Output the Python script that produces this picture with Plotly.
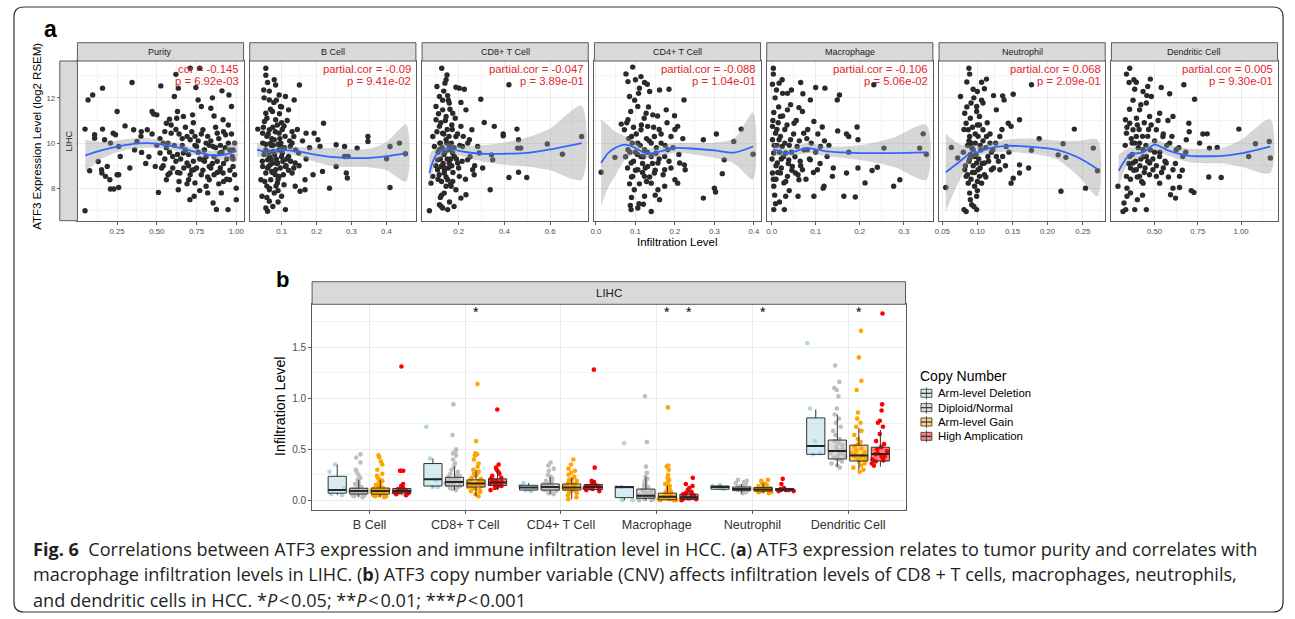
import plotly.graph_objects as go

W, H = 1295, 619
FONT = "Liberation Sans, Arial, Helvetica, sans-serif"
CAP_FONT = "Open Sans, Lato, Liberation Sans, sans-serif"

# ---------------- Panel a : data ----------------
panel_names = ["Purity", "B Cell", "CD8+ T Cell", "CD4+ T Cell", "Macrophage", "Neutrophil", "Dendritic Cell"]
cor_text = ["cor = -0.145", "partial.cor = -0.09", "partial.cor = -0.047", "partial.cor = -0.088",
            "partial.cor = -0.106", "partial.cor = 0.068", "partial.cor = 0.005"]
p_text = ["p = 6.92e-03", "p = 9.41e-02", "p = 3.89e-01", "p = 1.04e-01",
          "p = 5.06e-02", "p = 2.09e-01", "p = 9.30e-01"]

x_ticks = [[0.25, 0.5, 0.75, 1.0], [0.1, 0.2, 0.3, 0.4], [0.2, 0.4, 0.6], [0.0, 0.1, 0.2, 0.3, 0.4],
           [0.0, 0.1, 0.2, 0.3], [0.05, 0.10, 0.15, 0.20, 0.25], [0.5, 0.75, 1.0]]
x_tick_text = [["0.25", "0.50", "0.75", "1.00"], ["0.1", "0.2", "0.3", "0.4"], ["0.2", "0.4", "0.6"],
               ["0.0", "0.1", "0.2", "0.3", "0.4"], ["0.0", "0.1", "0.2", "0.3"],
               ["0.05", "0.10", "0.15", "0.20", "0.25"], ["0.50", "0.75", "1.00"]]
x_minor = [[0.125, 0.375, 0.625, 0.875], [0.05, 0.15, 0.25, 0.35, 0.45], [0.1, 0.3, 0.5, 0.7],
           [0.05, 0.15, 0.25, 0.35], [0.05, 0.15, 0.25, 0.35], [0.075, 0.125, 0.175, 0.225, 0.275],
           [0.375, 0.625, 0.875, 1.125]]
x_ranges = [[0.0, 1.046], [0.009, 0.484], [0.04, 0.767], [-0.004, 0.417], [-0.011, 0.366],
            [0.0455, 0.282], [0.25, 1.211]]
y_ticks = [8, 10, 12]
y_tick_text = ["8", "10", "12"]
y_minor = [7, 9, 11, 13]
y_range = [6.57, 13.63]

purity_pts = [(0.048,7.01),(0.048,10.62),(0.067,11.91),(0.096,12.13),(0.077,8.78),(0.108,10.37),(0.108,10.22),
    (0.158,12.43),(0.158,10.62),(0.171,10.15),(0.131,9.19),(0.152,8.82),(0.154,8.68),(0.188,8.97),(0.177,8.53),
    (0.204,8.38),(0.208,7.97),(0.229,7.97),(0.26,8.04),(0.25,8.6),(0.26,8.6),(0.225,10.44),(0.24,10.37),
    (0.208,10.0),(0.25,11.4),(0.27,9.41),(0.26,9.85),(0.30,10.76),(0.344,12.68),(0.354,10.59),(0.375,10.07),
    (0.404,9.59),(0.402,10.51),(0.44,10.59),(0.47,11.4),(0.48,11.29),(0.50,11.25),(0.525,12.53),(0.51,7.82),
    (0.49,8.97),(0.52,9.56),(0.54,10.0),(0.55,10.51),(0.56,10.88),(0.58,11.06),(0.59,10.44),(0.60,9.41),
    (0.61,12.06),(0.62,13.04),(0.635,12.43),(0.625,11.1),(0.635,7.94),(0.645,8.68),(0.667,11.18),(0.69,9.12),
    (0.70,8.38),(0.71,13.31),(0.725,11.25),(0.733,8.82),(0.735,7.65),(0.746,12.46),(0.76,11.91),(0.77,13.31),
    (0.78,11.62),(0.79,10.59),(0.798,9.7),(0.81,10.0),(0.81,8.09),(0.82,7.8),(0.83,8.97),(0.84,11.54),
    (0.85,12.0),(0.854,7.35),(0.875,7.07),(0.88,10.44),(0.896,8.75),(0.906,7.8),(0.91,12.31),(0.917,11.03),
    (0.933,10.37),(0.948,7.06),(0.954,12.13),(0.97,11.62),(0.975,9.41),(1.0,8.01),(0.99,10.0),(0.98,8.97),
    (0.71,10.15),(0.75,9.85),(0.854,9.85),(0.896,9.56),(0.667,9.56),(0.79,9.26),(0.917,8.68),(0.83,8.38),
    (0.74,8.24),(0.583,8.68),(0.56,8.38),(0.958,8.38),(0.708,7.5),(1.0,7.5),
    (0.62,9.2),(0.66,9.9),(0.70,9.0),(0.72,8.8),(0.76,9.6),(0.78,8.6),(0.80,9.2),(0.82,10.3),(0.84,8.9),
    (0.86,9.4),(0.88,8.7),(0.90,9.9),(0.92,9.1),(0.94,8.4),(0.96,9.7),(0.58,9.6),(0.55,9.3),(0.53,8.9),
    (0.64,10.4),(0.68,10.7),(0.74,10.3),(0.87,10.7),(0.92,10.5),(0.45,9.4),(0.40,10.3),(0.98,9.3),
    (0.69,8.2),(0.77,7.9),(0.89,8.2),(0.63,8.7),
    (0.52,10.2),(0.54,9.0),(0.56,9.8),(0.57,8.6),(0.59,10.8),(0.60,8.9),(0.61,9.9),(0.62,10.6),(0.63,9.5),
    (0.64,8.3),(0.65,9.3),(0.66,10.2),(0.67,8.9),(0.68,9.7),(0.69,10.3),(0.70,9.5),(0.71,8.6),(0.72,10.5),
    (0.73,9.2),(0.74,9.9),(0.75,8.9),(0.76,10.1),(0.77,9.3),(0.78,10.4),(0.79,8.8),(0.80,9.7),(0.81,9.4),
    (0.82,8.5),(0.83,9.9),(0.84,10.1),(0.85,9.1),(0.86,8.6),(0.87,9.8),(0.88,9.2),(0.89,10.2),(0.90,8.9),
    (0.91,9.6),(0.92,8.3),(0.93,9.8),(0.94,9.3),(0.95,10.0),(0.96,8.8),(0.97,10.4),(0.98,9.7),(0.99,8.6),
    (0.57,10.0),(0.63,11.4),(0.73,10.9),(0.86,11.2),(0.95,10.8),(0.50,9.9),(0.47,10.4),(0.43,9.1),(0.36,9.7),
    (0.33,8.9)]

bcell_pts = [(0.055,13.31),(0.055,13.0),(0.06,12.68),(0.049,12.35),(0.079,12.8),(0.083,12.57),(0.065,11.91),
    (0.093,12.13),(0.111,12.06),(0.151,12.57),(0.136,11.91),(0.074,11.4),(0.097,11.62),(0.12,11.47),(0.055,11.32),
    (0.032,10.62),(0.046,10.44),(0.107,10.76),(0.13,10.51),(0.135,10.29),(0.17,10.44),(0.193,10.44),(0.22,10.88),
    (0.204,10.15),(0.21,9.85),(0.256,9.93),(0.28,9.85),(0.347,10.29),(0.347,10.07),(0.316,9.78),(0.28,9.41),
    (0.256,8.97),(0.29,9.41),(0.41,9.85),(0.437,10.0),(0.454,9.53),(0.40,9.31),(0.41,8.04),(0.285,8.68),
    (0.288,8.46),(0.237,8.01),(0.217,8.75),(0.19,8.6),(0.167,8.38),(0.167,7.94),(0.153,7.87),(0.139,8.09),
    (0.111,7.06),(0.1,7.65),(0.065,7.43),(0.055,7.13),(0.06,6.99),(0.044,7.65),(0.065,7.94),(0.079,7.8),
    (0.046,10.0),(0.055,9.7),(0.065,9.41),(0.074,9.12),(0.083,8.82),(0.093,8.53),(0.055,8.68),(0.069,8.38),
    (0.088,8.24),(0.046,8.97),(0.102,9.56),(0.111,8.97),(0.12,9.41),(0.079,10.15),(0.093,10.44),(0.065,10.59),
    (0.083,11.03),(0.069,10.0),(0.06,9.26),(0.097,9.85),(0.13,8.68),(0.139,9.12),(0.041,8.38),(0.107,8.16),
    (0.125,9.85),(0.149,9.56),(0.051,10.96),(0.076,9.63),(0.089,9.12),(0.063,8.97),
    (0.07,9.9),(0.085,9.3),(0.095,10.2),(0.058,8.1),(0.09,7.4),(0.075,10.7),(0.1,10.9),(0.115,9.3),
    (0.082,8.6),(0.068,9.05),(0.05,9.5),(0.09,9.95),(0.072,8.75),(0.104,9.2),(0.058,10.3),
    (0.045,9.2),(0.048,10.7),(0.052,8.3),(0.055,9.95),(0.058,11.1),(0.06,8.9),(0.062,10.4),(0.064,9.6),
    (0.066,8.0),(0.068,11.5),(0.07,9.3),(0.072,10.2),(0.074,8.7),(0.076,9.9),(0.078,11.8),(0.08,9.5),
    (0.082,10.5),(0.084,8.1),(0.086,9.1),(0.088,10.8),(0.09,8.4),(0.092,9.7),(0.094,11.3),(0.096,8.9),
    (0.098,10.0),(0.1,9.4),(0.102,10.6),(0.105,8.6),(0.108,9.8),(0.11,10.3),(0.113,9.0),(0.116,11.0),
    (0.12,8.8),(0.123,10.1),(0.126,9.2),(0.13,10.0),(0.135,8.9),(0.14,9.7),(0.145,10.6),(0.15,9.0),
    (0.16,10.1),(0.17,9.3),(0.18,9.8),(0.05,12.0),(0.065,12.3),(0.085,11.9),(0.1,11.6),(0.058,7.6),
    (0.075,7.2),(0.09,7.9)]

cd8_pts = [(0.126,13.31),(0.149,13.01),(0.145,12.8),(0.14,12.65),(0.188,12.47),(0.203,12.43),(0.225,12.38),
    (0.116,12.06),(0.297,11.94),(0.42,12.58),(0.101,11.62),(0.159,11.77),(0.232,11.47),(0.258,10.59),(0.312,10.91),
    (0.356,10.74),(0.395,10.4),(0.395,10.32),(0.455,10.62),(0.462,10.15),(0.472,9.78),(0.458,9.78),(0.588,9.96),
    (0.654,9.51),(0.738,10.29),(0.344,9.48),(0.349,9.26),(0.305,8.9),(0.261,8.82),(0.268,8.6),(0.42,8.48),
    (0.462,8.71),(0.498,8.48),(0.338,7.94),(0.21,7.57),(0.232,7.72),(0.137,7.79),(0.116,7.28),(0.13,7.13),
    (0.152,7.06),(0.072,7.01),(0.123,7.21),(0.079,8.23),(0.087,8.53),
    (0.101,11.03),(0.116,10.74),(0.13,10.44),(0.145,10.15),(0.159,9.85),(0.174,9.56),(0.108,9.26),(0.123,8.97),
    (0.137,8.68),(0.152,8.38),(0.167,8.09),(0.181,9.41),(0.196,9.12),(0.094,9.85),(0.087,10.29),(0.188,10.29),
    (0.21,10.74),(0.217,9.85),(0.239,9.26),(0.145,11.18),(0.174,11.32),(0.13,11.47),(0.108,8.82),(0.203,8.53),
    (0.174,8.31),(0.145,8.09),(0.29,9.56),(0.283,9.85),(0.247,10.15),(0.159,9.12),(0.116,9.71),(0.188,7.94),
    (0.12,10.0),(0.135,9.5),(0.15,10.6),(0.165,9.3),(0.11,8.4),(0.14,8.9),(0.17,10.8),(0.125,7.7),
    (0.1,9.0),(0.105,10.5),(0.11,9.6),(0.112,11.3),(0.115,8.6),(0.118,10.0),(0.12,9.3),(0.122,10.9),
    (0.125,8.3),(0.128,9.8),(0.13,11.9),(0.132,9.1),(0.135,10.4),(0.138,8.8),(0.14,9.6),(0.142,11.0),
    (0.145,8.5),(0.148,10.0),(0.15,9.3),(0.152,12.1),(0.155,8.9),(0.158,10.3),(0.16,9.7),(0.162,11.5),
    (0.165,8.2),(0.168,10.0),(0.17,9.0),(0.172,10.6),(0.175,8.7),(0.18,9.8),(0.185,11.1),(0.19,9.3),
    (0.195,10.4),(0.2,8.9),(0.205,9.9),(0.21,11.8),(0.215,9.2),(0.22,10.3),(0.23,8.4),(0.24,10.0),
    (0.25,9.4),(0.27,9.0),(0.135,12.3),(0.12,7.6),(0.16,7.4),(0.18,7.2),(0.105,12.5),(0.155,11.9)]

cd4_pts = [(0.093,13.36),(0.076,13.06),(0.081,12.72),(0.114,12.94),(0.123,12.68),(0.11,12.43),(0.136,12.28),
    (0.085,12.06),(0.161,12.35),(0.185,12.38),(0.223,11.91),(0.064,10.84),(0.072,10.59),(0.048,9.37),(0.013,8.71),
    (0.127,11.32),(0.199,11.21),(0.207,10.74),(0.272,10.15),(0.305,10.4),(0.325,9.26),(0.349,10.07),(0.368,10.62),
    (0.398,9.51),(0.32,8.65),(0.3,8.01),(0.303,7.84),(0.272,7.57),(0.212,9.12),(0.224,9.04),(0.226,8.82),
    (0.2,8.38),(0.207,8.23),(0.174,8.09),(0.161,7.5),(0.14,6.98),(0.089,7.06),(0.106,7.13),(0.109,7.32),
    (0.087,7.24),
    (0.09,10.29),(0.106,10.0),(0.123,9.71),(0.14,9.41),(0.157,9.12),(0.174,8.82),(0.089,9.12),(0.106,8.82),
    (0.123,8.53),(0.14,8.23),(0.157,7.94),(0.097,7.94),(0.114,10.59),(0.131,10.74),(0.148,10.29),(0.165,10.0),
    (0.182,9.71),(0.081,9.71),(0.093,8.53),(0.123,7.65),(0.148,8.68),(0.114,9.41),(0.174,9.41),(0.131,8.97),
    (0.081,11.03),(0.19,10.29),(0.106,11.62),(0.144,11.25),(0.178,11.47),
    (0.1,9.6),(0.118,9.1),(0.135,10.1),(0.095,10.7),(0.152,9.55),(0.128,8.3),(0.085,8.2),(0.16,10.6),
    (0.075,9.4),(0.078,10.9),(0.08,8.9),(0.083,10.2),(0.086,9.6),(0.088,11.4),(0.09,8.5),(0.092,10.0),
    (0.095,9.2),(0.098,11.9),(0.1,8.8),(0.102,10.4),(0.105,9.5),(0.108,12.2),(0.11,8.2),(0.112,9.9),
    (0.115,10.8),(0.118,8.7),(0.12,9.4),(0.122,11.1),(0.125,8.9),(0.128,10.2),(0.13,9.6),(0.133,11.6),
    (0.136,8.5),(0.14,10.0),(0.143,9.1),(0.146,10.7),(0.15,8.8),(0.153,9.8),(0.156,11.2),(0.16,9.3),
    (0.165,10.4),(0.17,8.6),(0.175,9.9),(0.18,10.9),(0.185,9.2),(0.19,8.9),(0.195,9.8),(0.2,10.6),
    (0.21,9.5),(0.22,10.2),(0.09,7.6),(0.12,7.3),(0.15,7.7),(0.1,12.8),(0.13,12.6)]

macro_pts = [(0.004,13.31),(0.004,13.05),(0.017,12.65),(0.024,12.8),(0.011,12.35),(0.036,12.2),(0.045,12.35),
    (0.066,12.68),(0.1,12.46),(0.121,12.43),(0.071,12.18),(0.088,11.91),(0.149,11.91),(0.154,12.13),(0.232,12.58),
    (0.062,11.57),(0.005,11.35),(0.096,10.96),(0.115,10.71),(0.15,10.54),(0.175,10.29),(0.194,10.71),(0.196,10.15),
    (0.17,10.4),(0.255,9.78),(0.336,9.78),(0.344,10.41),(0.351,9.51),(0.24,8.93),(0.228,8.79),(0.196,8.9),
    (0.175,9.6),(0.17,8.68),(0.212,8.24),(0.291,8.38),(0.277,8.09),(0.164,7.65),(0.19,7.62),(0.119,8.09),
    (0.117,8.01),(0.096,7.65),(0.06,7.65),(0.032,7.65),(0.009,7.32),(0.005,7.06),(0.029,7.06),
    (0.002,10.74),(0.009,10.44),(0.017,10.15),(0.024,9.85),(0.032,9.56),(0.039,9.26),(0.047,8.97),(0.054,8.68),
    (0.062,8.38),(0.005,9.56),(0.013,9.12),(0.02,8.68),(0.028,8.24),(0.005,8.09),(0.043,10.15),(0.051,10.88),
    (0.073,10.44),(0.081,9.71),(0.088,9.26),(0.07,8.82),(0.036,8.53),(0.02,11.18),(0.036,11.47),(0.058,9.85),
    (0.104,8.82),(0.111,9.85),(0.126,9.41),(0.138,8.53),(0.002,10.15),(0.002,8.68),
    (0.012,9.9),(0.03,10.6),(0.022,9.3),(0.065,9.2),(0.045,9.6),(0.01,8.4),(0.08,10.2),(0.015,10.9),
    (0.001,9.3),(0.003,11.0),(0.004,8.4),(0.006,9.9),(0.008,12.0),(0.01,9.0),(0.012,10.6),(0.014,8.7),
    (0.016,11.6),(0.018,9.6),(0.02,10.3),(0.022,8.9),(0.025,11.2),(0.027,9.4),(0.03,10.0),(0.032,8.3),
    (0.035,10.8),(0.038,9.1),(0.04,9.9),(0.043,11.7),(0.046,8.8),(0.05,10.4),(0.053,9.4),(0.056,11.0),
    (0.06,8.6),(0.063,10.1),(0.066,9.0),(0.07,11.4),(0.074,9.7),(0.078,8.4),(0.082,10.6),(0.086,9.3),
    (0.09,10.0),(0.095,8.7),(0.1,9.6),(0.105,10.4),(0.11,9.1),(0.12,10.1),(0.13,9.9),(0.14,8.9),
    (0.007,7.7),(0.018,7.4),(0.04,7.9),(0.002,12.6),(0.025,12.2)]

neutro_pts = [(0.088,13.31),(0.089,13.05),(0.106,12.69),(0.113,12.83),(0.094,12.38),(0.1,12.28),(0.076,12.06),
    (0.123,12.1),(0.136,12.09),(0.138,11.91),(0.151,12.16),(0.177,12.58),(0.127,11.47),(0.16,11.03),(0.144,10.88),
    (0.148,10.74),(0.188,10.19),(0.222,9.97),(0.238,10.62),(0.265,9.78),(0.271,8.78),(0.254,8.01),(0.219,7.87),
    (0.215,9.48),(0.226,9.37),(0.177,9.68),(0.173,8.9),(0.16,9.04),(0.151,8.45),(0.16,8.68),(0.148,8.23),
    (0.132,8.82),(0.055,8.04),(0.063,9.81),(0.072,9.34),(0.081,7.06),(0.084,6.98),(0.092,7.28),(0.099,7.06),
    (0.099,7.65),(0.089,7.79),
    (0.082,11.32),(0.084,10.88),(0.087,10.59),(0.089,10.29),(0.091,10.0),(0.094,9.71),(0.096,9.41),(0.099,9.12),
    (0.101,8.82),(0.103,8.53),(0.106,8.23),(0.082,8.82),(0.084,8.53),(0.087,8.23),(0.108,10.59),(0.113,10.29),
    (0.118,10.0),(0.122,9.71),(0.127,9.41),(0.11,9.12),(0.115,9.41),(0.12,8.82),(0.103,11.18),(0.099,11.62),
    (0.091,11.77),(0.108,11.77),(0.132,10.29),(0.141,9.85),(0.136,9.41),(0.096,8.09),
    (0.09,9.5),(0.097,10.4),(0.086,9.9),(0.104,9.9),(0.093,8.7),(0.112,8.5),(0.1,10.8),(0.088,9.2),
    (0.08,9.6),(0.081,10.6),(0.083,9.0),(0.085,11.6),(0.086,8.6),(0.088,10.1),(0.089,9.3),(0.09,11.1),
    (0.091,8.4),(0.092,9.8),(0.093,10.7),(0.094,9.0),(0.095,12.0),(0.096,8.7),(0.097,10.0),(0.098,9.5),
    (0.099,11.4),(0.1,8.3),(0.101,10.3),(0.102,9.3),(0.103,10.8),(0.104,8.9),(0.105,9.7),(0.106,11.9),
    (0.107,9.1),(0.108,10.1),(0.11,8.6),(0.112,9.8),(0.114,10.9),(0.116,9.2),(0.118,10.4),(0.12,9.6),
    (0.123,8.9),(0.126,10.0),(0.13,9.2),(0.135,10.6),(0.14,9.0),(0.145,9.6),(0.09,7.5),(0.1,7.9),
    (0.085,12.7),(0.11,12.4),(0.095,7.2)]

dc_pts = [(0.356,13.31),(0.337,13.05),(0.352,12.68),(0.394,12.69),(0.475,12.83),(0.538,12.46),(0.385,12.38),
    (0.433,12.28),(0.587,12.18),(0.669,12.58),(0.731,11.94),(0.481,12.06),(0.452,11.77),(0.331,11.03),(0.337,10.44),
    (0.577,11.0),(0.698,10.88),(0.779,10.4),(0.804,10.41),(0.862,9.81),(0.817,9.78),(0.76,10.0),(0.987,10.62),
    (1.083,9.97),(1.163,10.07),(1.169,9.34),(1.044,9.41),(0.885,8.48),(0.813,8.5),(0.712,7.9),(0.727,7.82),
    (0.644,8.04),(0.606,8.01),(0.592,7.72),(0.621,7.57),(0.34,8.01),(0.288,8.09),(0.323,7.35),(0.333,7.06),
    (0.317,6.98),(0.385,7.06),(0.452,7.06),(0.34,7.65),
    (0.356,10.88),(0.375,10.59),(0.394,10.29),(0.413,10.0),(0.433,9.71),(0.452,9.41),(0.471,9.12),(0.49,8.82),
    (0.51,8.53),(0.529,8.23),(0.356,9.41),(0.375,9.12),(0.394,8.82),(0.413,8.53),(0.433,8.23),(0.51,10.59),
    (0.548,10.29),(0.587,10.0),(0.625,9.71),(0.663,9.41),(0.529,9.41),(0.567,9.12),(0.606,8.82),(0.644,8.53),
    (0.471,11.18),(0.529,11.32),(0.413,11.47),(0.606,11.18),(0.683,10.15),(0.337,8.53),
    (0.37,10.0),(0.42,9.3),(0.46,10.3),(0.5,9.6),(0.4,10.8),(0.55,8.9),(0.36,8.9),(0.44,8.7),
    (0.33,9.9),(0.34,10.7),(0.35,9.1),(0.355,11.5),(0.36,8.4),(0.365,10.2),(0.37,9.5),(0.375,11.9),
    (0.38,8.8),(0.385,10.0),(0.39,9.2),(0.395,11.1),(0.4,8.5),(0.405,9.8),(0.41,10.6),(0.415,9.0),
    (0.42,11.7),(0.425,8.3),(0.43,10.3),(0.435,9.4),(0.44,10.9),(0.445,8.9),(0.45,9.9),(0.455,12.1),
    (0.46,9.2),(0.465,10.6),(0.47,8.6),(0.475,9.7),(0.48,10.8),(0.49,9.3),(0.5,10.1),(0.51,9.0),
    (0.52,11.0),(0.53,9.6),(0.54,8.7),(0.55,10.4),(0.56,9.2),(0.57,9.9),(0.58,8.5),(0.6,10.3),
    (0.62,9.1),(0.64,9.8),(0.66,8.8),(0.68,9.6),(0.7,10.5),(0.36,7.8),(0.4,7.5),(0.43,7.7),
    (0.38,12.8),(0.46,12.5)]

scatter_pts = [purity_pts, bcell_pts, cd8_pts, cd4_pts, macro_pts, neutro_pts, dc_pts]

# loess fit: x, fitted value, lower and upper 95% band
fit_x = [[0.05,0.15,0.25,0.35,0.45,0.55,0.65,0.75,0.85,0.92,1.0],
         [0.03,0.06,0.1,0.15,0.2,0.25,0.3,0.35,0.4,0.456],
         [0.072,0.1,0.15,0.2,0.3,0.4,0.5,0.6,0.738],
         [0.013,0.03,0.05,0.075,0.1,0.125,0.15,0.2,0.25,0.3,0.35,0.398],
         [0.004,0.036,0.081,0.126,0.2,0.277,0.351],
         [0.055,0.075,0.094,0.1,0.113,0.141,0.17,0.212,0.245,0.271],
         [0.292,0.356,0.433,0.5,0.577,0.702,0.8,0.894,1.0,1.169]]
fit_y = [[9.46,9.68,9.85,9.97,10.0,9.92,9.78,9.6,9.46,9.48,9.66],
         [9.71,9.6,9.7,9.62,9.48,9.38,9.34,9.34,9.42,9.56],
         [8.68,9.45,9.78,9.66,9.53,9.53,9.57,9.72,10.0],
         [9.12,9.55,9.8,9.93,9.78,9.55,9.58,9.78,9.75,9.68,9.58,9.85],
         [9.74,9.56,9.78,9.63,9.56,9.56,9.59],
         [8.71,9.19,9.63,9.59,9.75,9.88,9.85,9.71,9.34,8.85],
         [8.78,9.49,9.59,9.93,9.68,9.44,9.42,9.44,9.55,9.85]]
fit_lo = [[8.75,9.3,9.6,9.75,9.8,9.75,9.62,9.45,9.3,9.27,9.19],
          [9.4,9.42,9.55,9.42,9.15,8.98,8.95,8.93,8.8,8.3],
          [8.09,9.1,9.56,9.45,9.2,9.05,8.97,8.8,8.38],
          [7.2,8.0,8.6,9.3,9.5,9.33,9.37,9.57,9.5,9.35,9.1,8.4],
          [9.49,9.4,9.55,9.42,9.25,8.95,8.38],
          [6.98,8.38,9.35,9.41,9.55,9.62,9.55,9.3,8.5,7.65],
          [8.09,9.2,9.38,9.7,9.45,9.15,9.1,9.1,8.95,8.68]]
fit_hi = [[10.15,10.05,10.12,10.2,10.22,10.1,9.95,9.77,9.65,9.7,10.15],
          [10.02,9.78,9.85,9.82,9.8,9.78,9.73,9.75,10.05,10.82],
          [9.5,9.8,10.0,9.88,9.9,10.03,10.25,10.65,11.65],
          [11.06,10.8,10.5,10.3,10.06,9.77,9.8,10.0,10.0,10.02,10.2,11.35],
          [10.0,9.75,10.0,9.85,9.9,10.25,10.81],
          [10.41,9.95,9.9,9.85,9.95,10.15,10.2,10.12,10.1,10.15],
          [9.5,9.8,9.8,10.15,9.95,9.75,9.75,9.8,10.15,11.06]]

# ---------------- Panel b : data ----------------
cell_types = ["B Cell", "CD8+ T Cell", "CD4+ T Cell", "Macrophage", "Neutrophil", "Dendritic Cell"]
cnv_groups = ["Arm-level Deletion", "Diploid/Normal", "Arm-level Gain", "High Amplication"]

deletion_vals = [[0.35,0.28,0.12,0.06,0.05], [0.72,0.41,0.20,0.13,0.13], [0.17,0.14,0.12,0.10,0.09],
                 [0.56,0.13,0.13,0.0,0.0], [0.15,0.14,0.13,0.12,0.11], [1.54,0.90,0.58,0.46,0.45]]
diploid_vals = [
    [0.45,0.42,0.37,0.30,0.28,0.25,0.22,0.20,0.18,0.16,0.15,0.14,0.13,0.12,0.12,0.11,0.11,0.10,0.10,0.09,0.09,0.09,0.08,0.08,0.08,0.07,0.07,0.06,0.06,0.05,0.05,0.04,0.03],
    [0.94,0.64,0.50,0.48,0.46,0.44,0.40,0.36,0.33,0.30,0.28,0.26,0.25,0.24,0.23,0.22,0.21,0.20,0.19,0.19,0.18,0.18,0.17,0.17,0.16,0.16,0.15,0.15,0.14,0.14,0.13,0.12,0.11,0.10],
    [0.37,0.34,0.31,0.29,0.25,0.23,0.21,0.20,0.19,0.18,0.17,0.16,0.16,0.15,0.14,0.14,0.13,0.13,0.13,0.12,0.12,0.11,0.11,0.10,0.10,0.09,0.08,0.07,0.06],
    [1.02,0.57,0.33,0.27,0.23,0.21,0.19,0.17,0.15,0.13,0.12,0.11,0.10,0.09,0.08,0.07,0.06,0.05,0.05,0.04,0.04,0.03,0.03,0.02,0.02,0.01,0.01,0.0,0.0],
    [0.20,0.19,0.18,0.17,0.16,0.15,0.14,0.13,0.13,0.12,0.12,0.11,0.11,0.11,0.10,0.10,0.10,0.09,0.09,0.08,0.07],
    [1.32,1.16,1.10,1.08,1.02,0.90,0.84,0.80,0.76,0.72,0.68,0.64,0.60,0.58,0.56,0.54,0.52,0.50,0.49,0.48,0.47,0.46,0.45,0.44,0.43,0.42,0.41,0.40,0.38,0.36,0.34,0.32]]
gain_vals = [
    [0.44,0.42,0.38,0.35,0.30,0.26,0.24,0.22,0.20,0.19,0.18,0.16,0.15,0.14,0.13,0.12,0.12,0.11,0.11,0.10,0.10,0.09,0.09,0.09,0.08,0.08,0.08,0.07,0.07,0.06,0.06,0.05,0.05,0.04,0.04,0.03],
    [1.14,0.58,0.46,0.45,0.44,0.40,0.36,0.33,0.30,0.28,0.26,0.25,0.24,0.22,0.21,0.20,0.19,0.18,0.17,0.17,0.16,0.16,0.15,0.15,0.14,0.14,0.13,0.13,0.12,0.11,0.10,0.09,0.08,0.06,0.04],
    [0.40,0.35,0.31,0.29,0.27,0.25,0.23,0.21,0.20,0.19,0.18,0.17,0.16,0.16,0.15,0.14,0.14,0.13,0.13,0.12,0.12,0.12,0.11,0.11,0.10,0.10,0.09,0.08,0.07,0.05,0.03,0.01],
    [0.91,0.34,0.33,0.30,0.25,0.22,0.20,0.18,0.16,0.14,0.12,0.10,0.09,0.08,0.07,0.06,0.05,0.05,0.04,0.04,0.03,0.03,0.03,0.02,0.02,0.01,0.01,0.0,0.0,0.0],
    [0.20,0.19,0.17,0.16,0.15,0.14,0.13,0.13,0.12,0.12,0.11,0.11,0.10,0.10,0.10,0.09,0.09,0.09,0.08,0.08,0.07],
    [1.66,1.40,1.17,1.08,0.86,0.80,0.76,0.72,0.68,0.64,0.60,0.57,0.55,0.53,0.51,0.49,0.47,0.46,0.45,0.44,0.43,0.42,0.41,0.40,0.39,0.38,0.36,0.34,0.32,0.30,0.28]]
amp_vals = [
    [1.31,0.29,0.29,0.29,0.16,0.14,0.12,0.11,0.10,0.10,0.09,0.09,0.08,0.08,0.07,0.06,0.05],
    [0.89,0.35,0.32,0.30,0.28,0.26,0.24,0.22,0.21,0.20,0.19,0.18,0.17,0.17,0.16,0.15,0.15,0.14,0.13,0.12,0.10],
    [1.28,0.32,0.19,0.18,0.17,0.16,0.15,0.14,0.14,0.13,0.13,0.12,0.12,0.11,0.11,0.10,0.09],
    [0.22,0.16,0.14,0.12,0.10,0.08,0.07,0.06,0.05,0.04,0.04,0.03,0.03,0.02,0.02,0.01,0.01,0.0],
    [0.21,0.16,0.12,0.11,0.11,0.10,0.10,0.10,0.09,0.09],
    [1.83,0.94,0.88,0.78,0.76,0.72,0.65,0.58,0.55,0.52,0.50,0.48,0.46,0.45,0.44,0.43,0.42,0.40,0.39,0.38,0.36,0.34]]
group_vals = [deletion_vals, diploid_vals, gain_vals, amp_vals]

# box statistics (per cell type)
box_q1 = [[0.07,0.14,0.10,0.026,0.108,0.45], [0.062,0.14,0.10,0.02,0.095,0.405],
          [0.06,0.13,0.10,0.005,0.09,0.385], [0.07,0.145,0.105,0.01,0.095,0.385]]
box_med = [[0.10,0.205,0.125,0.13,0.13,0.532], [0.091,0.18,0.13,0.045,0.11,0.483],
           [0.09,0.165,0.125,0.035,0.105,0.44], [0.09,0.175,0.13,0.03,0.105,0.454]]
box_q3 = [[0.235,0.36,0.147,0.134,0.14,0.807], [0.118,0.225,0.16,0.11,0.13,0.59],
          [0.12,0.20,0.16,0.07,0.125,0.54], [0.115,0.21,0.155,0.06,0.115,0.52]]
box_lo = [[0.05,0.13,0.09,0.0,0.11,0.45], [0.03,0.10,0.06,0.0,0.07,0.33],
          [0.03,0.04,0.01,0.0,0.07,0.30], [0.05,0.10,0.09,0.0,0.09,0.33]]
box_hi = [[0.35,0.41,0.17,0.134,0.15,0.89], [0.20,0.33,0.23,0.23,0.16,0.84],
          [0.20,0.30,0.22,0.15,0.17,0.71], [0.16,0.30,0.19,0.10,0.13,0.69]]

# significance stars: (cell type index, copy-number group index)
star_marks = [(1, 2), (3, 2), (3, 3), (4, 2), (5, 2)]
star_level = 1.87

caption_lines = [
    "<b>Fig. 6</b>  Correlations between ATF3 expression and immune infiltration level in HCC. (<b>a</b>) ATF3 expression relates to tumor purity and correlates with",
    "macrophage infiltration levels in LIHC. (<b>b</b>) ATF3 copy number variable (CNV) affects infiltration levels of CD8 + T cells, macrophages, neutrophils,",
    "and dendritic cells in HCC. *<i>P</i>\u200a&lt;\u200a0.05; **<i>P</i>\u200a&lt;\u200a0.01; ***<i>P</i>\u200a&lt;\u200a0.001",
]

# ---------------- styling / geometry ----------------
def px(x):
    return x / W

def py(y):
    return 1 - y / H

PANEL_L0, PANEL_W, PANEL_GAP = 73.7, 166.8, 6.2
PANEL_TOP, PANEL_BOT, STRIP_TOP = 61.0, 220.7, 42.7
B_L, B_R, B_TOP, B_BOT, B_STRIP_TOP = 309.3, 905.0, 304.3, 510.0, 281.7

GRID = "#EBEBEB"
MINOR = "#F3F3F3"
FRAME = "#5A5A5A"
TICKTXT = "#4D4D4D"
RED = "#E3262A"

pt_colors = ["#ADD8E6", "#BEBEBE", "#FFA500", "#FF0000"]
box_fills = ["rgba(173,216,230,0.5)", "rgba(190,190,190,0.5)", "rgba(255,165,0,0.5)", "rgba(255,0,0,0.5)"]
offsets = [-0.3375, -0.1125, 0.1125, 0.3375]
BOX_W = 0.19

fig = go.Figure()
layout = dict(width=W, height=H, autosize=False, margin=dict(l=0, r=0, t=0, b=0),
              paper_bgcolor="white", plot_bgcolor="white", showlegend=False,
              font=dict(family=FONT, color="#000000"), boxmode="overlay")
shapes = []
annotations = []


def note(x, y, text, size, color="#000000", xa="center", ya="middle", angle=0, family=FONT, ref=("paper", "paper"), yshift=0):
    annotations.append(dict(xref=ref[0], yref=ref[1], x=x, y=y, text=text, showarrow=False,
                            xanchor=xa, yanchor=ya, textangle=angle, yshift=yshift,
                            font=dict(size=size, color=color, family=family)))


for i in range(7):
    k = "" if i == 0 else str(i + 1)
    L = PANEL_L0 + i * (PANEL_W + PANEL_GAP)
    R = L + PANEL_W
    xs = [p[0] for p in scatter_pts[i]]
    ys = [p[1] for p in scatter_pts[i]]
    fig.add_trace(go.Scatter(x=xs, y=ys, mode="markers", xaxis="x" + k, yaxis="y" + k,
                             marker=dict(color="#2A2A2A", size=5.4, line=dict(width=0)),
                             hoverinfo="skip"))
    bx = fit_x[i] + fit_x[i][::-1]
    by = fit_hi[i] + fit_lo[i][::-1]
    fig.add_trace(go.Scatter(x=bx, y=by, mode="lines", fill="toself", xaxis="x" + k, yaxis="y" + k,
                             fillcolor="rgba(153,153,153,0.4)", line=dict(width=0, shape="spline", smoothing=0.8),
                             hoverinfo="skip"))
    fig.add_trace(go.Scatter(x=fit_x[i], y=fit_y[i], mode="lines", xaxis="x" + k, yaxis="y" + k,
                             line=dict(color="#3366FF", width=1.8, shape="spline", smoothing=0.8),
                             hoverinfo="skip"))
    layout["xaxis" + k] = dict(domain=[px(L), px(R)], range=x_ranges[i], anchor="y" + k,
                               tickmode="array", tickvals=x_ticks[i], ticktext=x_tick_text[i],
                               showgrid=True, gridcolor=GRID, gridwidth=1,
                               minor=dict(tickvals=x_minor[i], showgrid=True, gridcolor=MINOR, gridwidth=0.6, ticks=""),
                               showline=True, mirror=True, linecolor=FRAME, linewidth=1,
                               ticks="outside", ticklen=3, tickcolor=FRAME,
                               tickfont=dict(size=7.8, color=TICKTXT), zeroline=False)
    layout["yaxis" + k] = dict(domain=[py(PANEL_BOT), py(PANEL_TOP)], range=y_range, anchor="x" + k,
                               tickmode="array", tickvals=y_ticks, showticklabels=False,
                               showgrid=True, gridcolor=GRID, gridwidth=1,
                               minor=dict(tickvals=y_minor, showgrid=True, gridcolor=MINOR, gridwidth=0.6, ticks=""),
                               showline=True, mirror=True, linecolor=FRAME, linewidth=1,
                               ticks="", zeroline=False)
    shapes.append(dict(type="rect", xref="paper", yref="paper", x0=px(L), x1=px(R),
                       y0=py(PANEL_TOP), y1=py(STRIP_TOP), fillcolor="#D9D9D9",
                       line=dict(color=FRAME, width=1), layer="above"))
    note(px((L + R) / 2), py((PANEL_TOP + STRIP_TOP) / 2), panel_names[i], 9, "#1A1A1A")
    note(px(R - 2.5), py(69.3), cor_text[i], 11.3, RED, xa="right")
    note(px(R - 2.5), py(80.9), p_text[i], 11.3, RED, xa="right")

# outer y axis of panel a (labels sit left of the LIHC strip)
fig.add_trace(go.Scatter(x=[], y=[], xaxis="x", yaxis="y9", hoverinfo="skip"))
layout["yaxis9"] = dict(overlaying="y", anchor="free", position=px(56), side="left", range=y_range,
                        tickmode="array", tickvals=y_ticks, ticktext=y_tick_text, showgrid=False,
                        showline=False, zeroline=False, ticks="outside", ticklen=3, tickcolor=FRAME,
                        tickfont=dict(size=7.8, color=TICKTXT))
shapes.append(dict(type="rect", xref="paper", yref="paper", x0=px(56), x1=px(PANEL_L0),
                   y0=py(PANEL_BOT), y1=py(PANEL_TOP), fillcolor="#D9D9D9", line=dict(color=FRAME, width=1)))
note(px(64.8), py((PANEL_TOP + PANEL_BOT) / 2), "LIHC", 9, "#1A1A1A", angle=-90)
note(px(33), py(136), "ATF3 Expression Level (log2 RSEM)", 11.5, angle=-90)
note(px(676.5), py(242), "Infiltration Level", 11.5)
note(px(46.5), py(28.5), "<b>a</b>", 23)

# ---------------- Panel b ----------------
cat_pos = list(range(1, len(cell_types) + 1))
for g in range(4):
    xs, ys = [], []
    for c in range(len(cell_types)):
        for v in group_vals[g][c]:
            xs.append(cat_pos[c] + offsets[g])
            ys.append(v)
    fig.add_trace(go.Box(x=xs, y=ys, xaxis="x8", yaxis="y8", orientation="v", boxpoints="all", jitter=1.0,
                         pointpos=0, width=BOX_W, fillcolor="rgba(0,0,0,0)",
                         line=dict(width=0, color="rgba(0,0,0,0)"),
                         marker=dict(color=pt_colors[g], size=4.6, line=dict(width=0)), hoverinfo="skip"))
for g in range(4):
    fig.add_trace(go.Box(x=[c + offsets[g] for c in cat_pos], q1=box_q1[g], median=box_med[g], q3=box_q3[g],
                         lowerfence=box_lo[g], upperfence=box_hi[g], xaxis="x8", yaxis="y8", orientation="v",
                         boxpoints=False, width=BOX_W, whiskerwidth=0, fillcolor=box_fills[g],
                         line=dict(color="#333333", width=1), hoverinfo="skip"))
    mx, my = [], []
    for c in range(len(cell_types)):
        x0 = cat_pos[c] + offsets[g]
        mx += [x0 - BOX_W / 2, x0 + BOX_W / 2, None]
        my += [box_med[g][c], box_med[g][c], None]
    fig.add_trace(go.Scatter(x=mx, y=my, mode="lines", xaxis="x8", yaxis="y8",
                             line=dict(color="#262626", width=2), hoverinfo="skip"))

layout["xaxis8"] = dict(domain=[px(B_L), px(B_R)], range=[0.4, len(cell_types) + 0.6], anchor="y8",
                        tickmode="array", tickvals=cat_pos, ticktext=cell_types, showgrid=True, gridcolor=GRID,
                        showline=True, mirror=True, linecolor=FRAME, linewidth=1, ticks="outside", ticklen=3,
                        tickcolor=FRAME, tickfont=dict(size=12.6, color="#333333"), zeroline=False)
layout["yaxis8"] = dict(domain=[py(B_BOT), py(B_TOP)], range=[-0.095, 1.92], anchor="x8", tickmode="array",
                        tickvals=[0, 0.5, 1.0, 1.5], ticktext=["0.0", "0.5", "1.0", "1.5"], showgrid=True,
                        gridcolor=GRID, minor=dict(tickvals=[0.25, 0.75, 1.25, 1.75], showgrid=True,
                                                   gridcolor=MINOR, gridwidth=0.6, ticks=""),
                        showline=True, mirror=True, linecolor=FRAME, linewidth=1, ticks="outside", ticklen=3,
                        tickcolor=FRAME, tickfont=dict(size=10, color=TICKTXT), zeroline=False)
for (c, g) in star_marks:
    note(cat_pos[c] + offsets[g], star_level, "*", 14, ref=("x8", "y8"), yshift=-3)
shapes.append(dict(type="rect", xref="paper", yref="paper", x0=px(B_L), x1=px(B_R), y0=py(B_TOP),
                   y1=py(B_STRIP_TOP), fillcolor="#D9D9D9", line=dict(color=FRAME, width=1)))
note(px((B_L + B_R) / 2), py((B_TOP + B_STRIP_TOP) / 2), "LIHC", 11.5, "#1A1A1A")
note(px(276.5), py(406.5), "Infiltration Level", 14.2, angle=-90)
note(px(280), py(279), "<b>b</b>", 22)

# legend (drawn by hand to match ggplot's spacing)
note(px(918), py(376), "Copy Number", 14, xa="left")
for g, name in enumerate(cnv_groups):
    yc = 393.3 + g * 14.35
    shapes.append(dict(type="rect", xref="paper", yref="paper", x0=px(920.5), x1=px(931.5),
                       y0=py(yc + 4), y1=py(yc - 4), fillcolor=box_fills[g], line=dict(color="#333333", width=0.8)))
    shapes.append(dict(type="line", xref="paper", yref="paper", x0=px(920.5), x1=px(931.5), y0=py(yc), y1=py(yc),
                       line=dict(color="#333333", width=1.2)))
    shapes.append(dict(type="line", xref="paper", yref="paper", x0=px(926), x1=px(926), y0=py(yc + 6),
                       y1=py(yc - 6), line=dict(color="#333333", width=0.8)))
    note(px(935.5), py(yc), name, 11.4, xa="left")

# caption
for j, line in enumerate(caption_lines):
    note(px(27), py(548.5 + j * 25.7), line, 18.1, "#231F20", xa="left", family=CAP_FONT)

# rounded figure border
x0, x1, yt, yb = px(10), px(1284), py(7), py(612)
rx, ry = 10 / W, 10 / H
path = (f"M {x0+rx},{yt} L {x1-rx},{yt} Q {x1},{yt} {x1},{yt-ry} L {x1},{yb+ry} Q {x1},{yb} {x1-rx},{yb} "
        f"L {x0+rx},{yb} Q {x0},{yb} {x0},{yb+ry} L {x0},{yt-ry} Q {x0},{yt} {x0+rx},{yt} Z")
shapes.append(dict(type="path", xref="paper", yref="paper", path=path, line=dict(color="#333333", width=1.2)))

layout["shapes"] = shapes
layout["annotations"] = annotations
fig.update_layout(**layout)
fig.write_html("out.html")
